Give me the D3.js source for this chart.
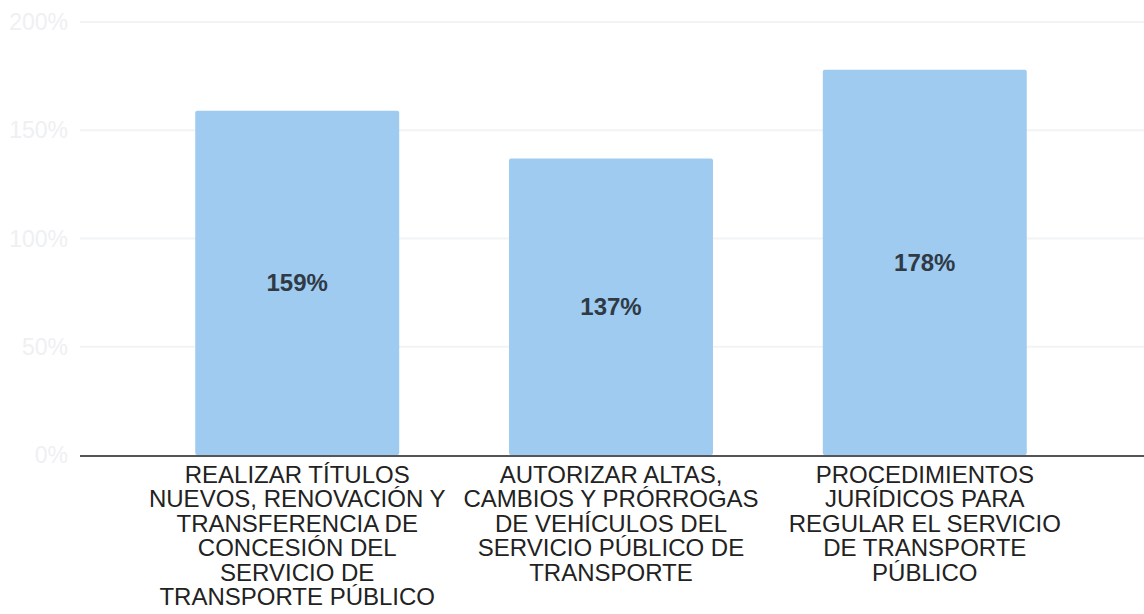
<!DOCTYPE html>
<html>
<head>
<meta charset="utf-8">
<script src="https://cdn.jsdelivr.net/npm/d3@7"></script>
<style>
  body { margin: 0; background: #fff; }
  svg { display: block; }
</style>
</head>
<body>
<svg></svg>
<script>
// datos
var categories = ["A", "B", "C"];
var values = [159, 137, 178];
var labelLines = [
  ["REALIZAR TÍTULOS", "NUEVOS, RENOVACIÓN Y", "TRANSFERENCIA DE", "CONCESIÓN DEL", "SERVICIO DE", "TRANSPORTE PÚBLICO"],
  ["AUTORIZAR ALTAS,", "CAMBIOS Y PRÓRROGAS", "DE VEHÍCULOS DEL", "SERVICIO PÚBLICO DE", "TRANSPORTE"],
  ["PROCEDIMIENTOS", "JURÍDICOS PARA", "REGULAR EL SERVICIO", "DE TRANSPORTE", "PÚBLICO"]
];
var yTicks = [0, 50, 100, 150, 200];

let width = 1144, height = 614;
const font = "'Liberation Sans', Arial, sans-serif";

let svg = d3.select("svg")
    .attr("width", width)
    .attr("height", height);

const x = d3.scaleBand()
  .domain(categories)
  .range([76, 1146])
  .paddingInner(0.35)
  .paddingOuter(0.38);

const y = d3.scaleLinear()
  .domain([0, 200])
  .range([455, 22]);

// grid
svg.append("g")
    .selectAll("line")
    .data(yTicks.slice(1))
    .enter()
    .append("line")
    .attr("x1", 80)
    .attr("x2", width)
    .attr("y1", d => y(d))
    .attr("y2", d => y(d))
    .attr("stroke", "#f1f3f5")
    .attr("stroke-width", 2);

// tick labels (muy tenues)
svg.append("g")
    .selectAll("text")
    .data(yTicks)
    .enter()
    .append("text")
    .attr("x", 68)
    .attr("y", d => y(d))
    .attr("dy", "0.35em")
    .attr("text-anchor", "end")
    .style("font-family", font)
    .style("font-size", "23px")
    .style("fill", "#eef0f2")
    .text(d => d + "%");

// bars
svg.append("g")
    .selectAll("rect")
    .data(values)
    .enter()
    .append("rect")
    .attr("x", (d, i) => x(categories[i]))
    .attr("y", d => y(d))
    .attr("width", x.bandwidth())
    .attr("height", d => y(0) - y(d))
    .attr("rx", 2)
    .attr("fill", "#9fcbf1");

// value labels
svg.append("g")
    .selectAll("text")
    .data(values)
    .enter()
    .append("text")
    .attr("x", (d, i) => x(categories[i]) + x.bandwidth() / 2)
    .attr("y", d => (y(d) + y(0)) / 2)
    .attr("dy", "0.35em")
    .attr("text-anchor", "middle")
    .style("font-family", font)
    .style("font-weight", "bold")
    .style("font-size", "24px")
    .style("fill", "#2f3a45")
    .text(d => d + "%");

// baseline
svg.append("line")
    .attr("x1", 80)
    .attr("x2", width)
    .attr("y1", y(0) + 1)
    .attr("y2", y(0) + 1)
    .attr("stroke", "#555")
    .attr("stroke-width", 2);

// category labels
labelLines.forEach((lines, i) => {
  let t = svg.append("text")
    .attr("text-anchor", "middle")
    .style("font-family", font)
    .style("font-size", "24px")
    .style("fill", "#222");
  lines.forEach((ln, j) => {
    t.append("tspan")
      .attr("x", x(categories[i]) + x.bandwidth() / 2)
      .attr("y", 483 + j * 24.4)
      .text(ln);
  });
});
</script>
</body>
</html>
